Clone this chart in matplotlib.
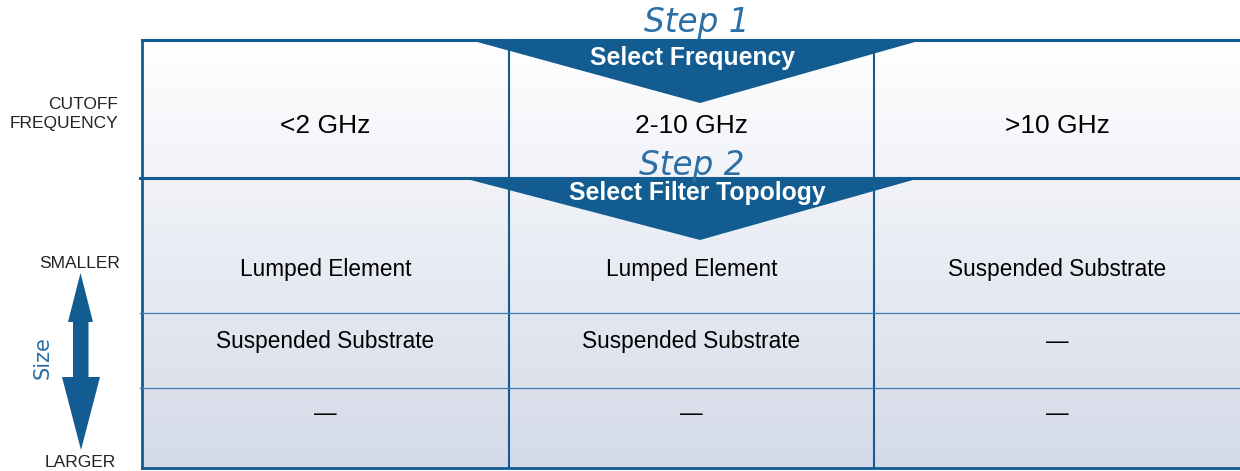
import matplotlib
matplotlib.use("Agg")
import matplotlib.pyplot as plt
import numpy as np
from matplotlib.patches import Polygon

# ---- data ----
steps = ["Step 1", "Step 2"]
step_titles = ["Select Frequency", "Select Filter Topology"]
frequencies = ["<2 GHz", "2-10 GHz", ">10 GHz"]
topology_rows = [
    ["Lumped Element", "Lumped Element", "Suspended Substrate"],
    ["Suspended Substrate", "Suspended Substrate", "\u2014"],
    ["\u2014", "\u2014", "\u2014"],
]
row_header = ["CUTOFF", "FREQUENCY"]
size_labels = ["SMALLER", "LARGER"]
size_axis = "Size"

# ---- layout ----
W, H = 1240, 471
BLUE = "#125c91"
LIGHT_BLUE = "#3f7db0"
col_edges = [142, 509, 874, 1240]
top, mid, bottom = 40, 178, 468
row_lines = [313, 388]
row_baselines = [276, 348, 420]

fig = plt.figure(figsize=(12.4, 4.71), dpi=100)
ax = fig.add_axes([0, 0, 1, 1])
ax.set_xlim(0, W)
ax.set_ylim(H, 0)
ax.axis("off")

# background gradient
n = 256
t = np.linspace(0, 1, n)[:, None]
c0 = np.array([255, 255, 255]) / 255
c1 = np.array([212, 218, 232]) / 255
grad = (c0 + (c1 - c0) * t)[:, None, :].repeat(2, axis=1)
ax.imshow(grad, extent=(col_edges[0], W, bottom, top), aspect="auto",
          interpolation="bilinear", zorder=0)

# grid lines
for x in col_edges[1:-1]:
    ax.plot([x, x], [top, bottom], color=BLUE, lw=1.5, zorder=2)
ax.plot([col_edges[0], col_edges[0]], [top, bottom], color=BLUE, lw=2, zorder=2)
ax.plot([col_edges[0], W], [top, top], color=BLUE, lw=2.2, zorder=2)
ax.plot([140, W], [mid, mid], color=BLUE, lw=2.2, zorder=2)
ax.plot([col_edges[0], W], [bottom, bottom], color=BLUE, lw=2, zorder=2)
for y in row_lines:
    ax.plot([140, W], [y, y], color=LIGHT_BLUE, lw=0.9, zorder=2)

# banners
ax.add_patch(Polygon([(470, top), (922, top), (700, 103)], closed=True,
                     facecolor=BLUE, edgecolor="none", zorder=3))
ax.add_patch(Polygon([(463, mid), (920, mid), (700, 240)], closed=True,
                     facecolor=BLUE, edgecolor="none", zorder=3))

step_font = dict(family="DejaVu Sans", style="oblique", fontsize=23.5,
                 color="#2a6fa6", ha="center", va="baseline", zorder=4)
ax.text(697, 32, steps[0], **step_font)
ax.text(692, 175, steps[1], **step_font)

title_font = dict(family="Liberation Sans", weight="bold", fontsize=17.8,
                  color="white", ha="center", va="baseline", zorder=4)
ax.text(692, 65, step_titles[0], **title_font)
ax.text(697, 200, step_titles[1], **title_font)

# frequency row
centers = [(a + b) / 2 for a, b in zip(col_edges[:-1], col_edges[1:])]
for cx, f in zip(centers, frequencies):
    ax.text(cx, 133, f, family="Liberation Sans", fontsize=19, color="black",
            ha="center", va="baseline", zorder=4)

# topology rows
for yb, row in zip(row_baselines, topology_rows):
    for cx, s in zip(centers, row):
        ax.text(cx, yb, s, family="Liberation Sans", fontsize=16.3, color="black",
                ha="center", va="baseline", zorder=4)

# left labels
lab = dict(family="Liberation Sans", fontsize=12.5, color="#222222", va="baseline")
ax.text(118, 109, row_header[0], ha="right", **lab)
ax.text(118, 128, row_header[1], ha="right", **lab)
ax.text(80, 268, size_labels[0], ha="center", **lab)
ax.text(80, 467, size_labels[1], ha="center", **lab)

# double arrow
arrow = [(80.5, 273), (93, 322), (88.5, 322), (88.5, 377), (100, 377),
         (81, 450), (62, 377), (73, 377), (73, 322), (68, 322)]
ax.add_patch(Polygon(arrow, closed=True, facecolor=BLUE, edgecolor="none", zorder=4))
ax.text(43, 358, size_axis, family="DejaVu Sans", fontsize=15, color="#2a6fa6",
        rotation=90, ha="center", va="center", zorder=4)

fig.savefig("out.png", dpi=100)
